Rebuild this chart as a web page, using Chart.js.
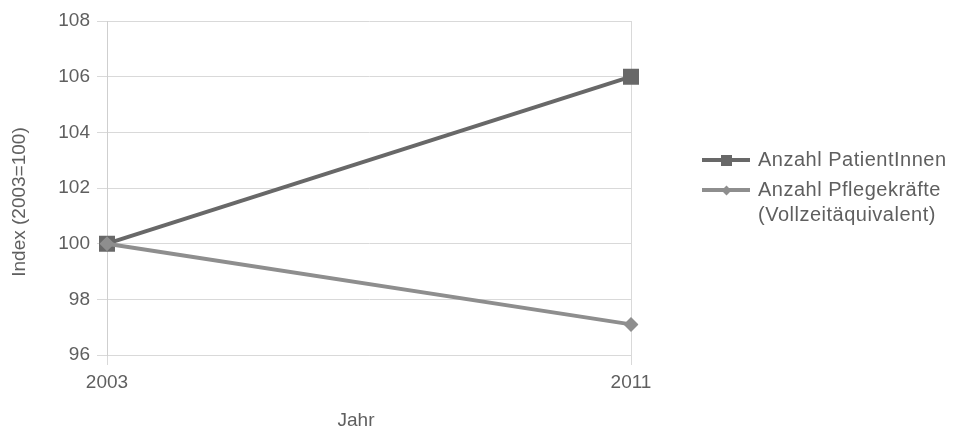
<!DOCTYPE html>
<html>
<head>
<meta charset="utf-8">
<script src="https://cdn.jsdelivr.net/npm/chart.js@4"></script>
<style>
  body { margin: 0; background: #fff; font-family: "Liberation Sans", Arial, sans-serif; }
  #wrap { position: relative; width: 955px; height: 430px; }
  #legend { position: absolute; left: 702px; top: 147px; color: #5f5f5f; font-size: 20px; letter-spacing: 0.5px; }
  .row { position: relative; display: flex; align-items: flex-start; margin-bottom: 4px; }
  .mark { position: relative; width: 48px; height: 26px; flex: none; }
  .mark .ln { position: absolute; left: 0; right: 0; top: 11px; height: 4px; }
  .mark .pt { position: absolute; }
  .txt { margin-left: 8px; line-height: 25px; }
</style>
</head>
<body>
<div id="wrap">
  <canvas id="chart" width="955" height="430"></canvas>
  <div id="legend"></div>
</div>
<script>
const years = ["2003", "2011"];
const patientInnen = [100, 106];
const pflegekraefte = [100, 97.1];
const seriesNames = ["Anzahl PatientInnen", "Anzahl Pflegekräfte\n(Vollzeitäquivalent)"];
const seriesColors = ["#686868", "#8e8e8e"];
const xTitle = "Jahr";
const yTitle = "Index (2003=100)";

const textColor = "#5f5f5f";
const gridColor = "#d9d9d9";

// axis titles sit a little off the plot centre in the original, so draw them here
const axisTitles = {
  id: "axisTitles",
  afterDraw(chart) {
    const c = chart.ctx;
    const area = chart.chartArea;
    c.save();
    c.fillStyle = textColor;
    c.font = "19px 'Liberation Sans'";
    c.textAlign = "center";
    c.textBaseline = "middle";
    c.fillText(xTitle, (area.left + area.right) / 2 - 13, chart.height - 9);
    c.translate(20, (area.top + area.bottom) / 2 + 14);
    c.rotate(-Math.PI / 2);
    c.fillText(yTitle, 0, 0);
    c.restore();
  },
};

const ctx = document.getElementById("chart");

const chart = new Chart(ctx, {
  type: "line",
  data: {
    labels: years,
    datasets: [
      {
        label: seriesNames[0],
        data: patientInnen,
        borderColor: seriesColors[0],
        backgroundColor: seriesColors[0],
        borderWidth: 4,
        pointStyle: "rect",
        pointRadius: 11.3,
        pointBorderWidth: 0,
        order: 1,
      },
      {
        label: seriesNames[1],
        data: pflegekraefte,
        borderColor: seriesColors[1],
        backgroundColor: seriesColors[1],
        borderWidth: 4,
        pointStyle: "rectRot",
        pointRadius: 7.5,
        pointBorderWidth: 0,
        order: 0,
      },
    ],
  },
  options: {
    responsive: false,
    animation: false,
    layout: { padding: { top: 21, right: 324, left: 0, bottom: 0 } },
    plugins: { legend: { display: false }, tooltip: { enabled: false } },
    scales: {
      x: {
        offset: false,
        grid: { color: gridColor, tickLength: 10 },
        border: { color: gridColor },
        ticks: { color: textColor, font: { family: "Liberation Sans", size: 19 }, padding: 6, maxRotation: 0 },
        afterFit: (scale) => { scale.height = 75; },
      },
      y: {
        min: 96,
        max: 108,
        grid: { color: gridColor, tickLength: 10 },
        border: { color: "#cfcfcf" },
        ticks: { stepSize: 2, color: textColor, font: { family: "Liberation Sans", size: 19 }, padding: 7 },
        afterFit: (scale) => { scale.width = 107; },
      },
    },
  },
  plugins: [axisTitles],
});

// legend built from the dataset list
const legend = document.getElementById("legend");
chart.data.datasets.forEach((ds) => {
  const row = document.createElement("div");
  row.className = "row";
  const mark = document.createElement("div");
  mark.className = "mark";
  const ln = document.createElement("div");
  ln.className = "ln";
  ln.style.background = ds.borderColor;
  const pt = document.createElement("div");
  pt.className = "pt";
  pt.style.background = ds.backgroundColor;
  if (ds.pointStyle === "rect") {
    pt.style.cssText += "width:11px;height:11px;left:19px;top:7.5px;";
  } else {
    pt.style.cssText += "width:7px;height:7px;left:20.5px;top:9.5px;transform:rotate(45deg);";
  }
  mark.appendChild(ln);
  mark.appendChild(pt);
  const txt = document.createElement("div");
  txt.className = "txt";
  txt.innerText = ds.label;
  row.appendChild(mark);
  row.appendChild(txt);
  legend.appendChild(row);
});
</script>
</body>
</html>
